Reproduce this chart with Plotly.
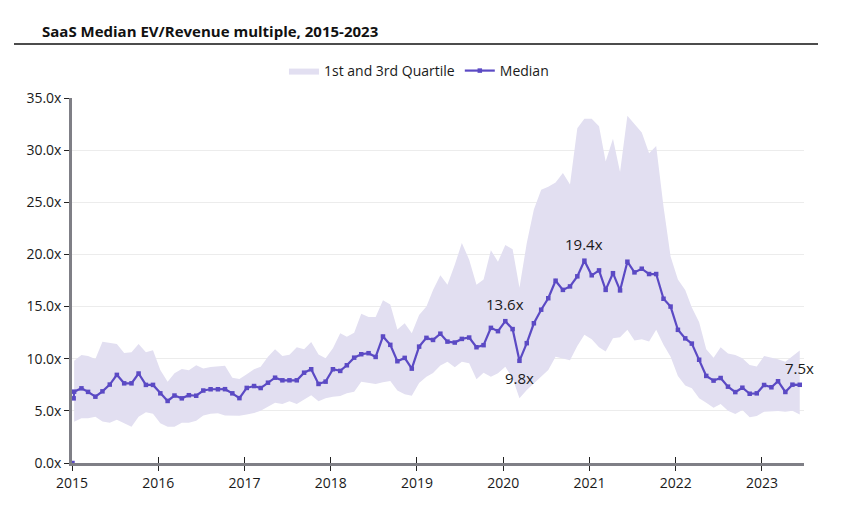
import pandas as pd
import plotly.graph_objects as go

# ---- data ----
start_month = "2015-01-01"
n_months = 102
dates = list(pd.date_range(start_month, periods=n_months, freq="MS") + pd.Timedelta(days=9))

median = [6.84, 7.16, 6.82, 6.36, 6.87, 7.52, 8.45, 7.64, 7.64, 8.58, 7.49, 7.49,
          6.68, 5.95, 6.47, 6.20, 6.50, 6.45, 6.95, 7.07, 7.07, 7.08, 6.68, 6.22,
          7.20, 7.38, 7.19, 7.70, 8.18, 7.93, 7.93, 7.93, 8.66, 8.99, 7.58, 7.80,
          8.99, 8.83, 9.37, 10.10, 10.43, 10.53, 10.17, 12.13, 11.33, 9.76, 10.08, 9.05,
          11.16, 12.00, 11.80, 12.40, 11.64, 11.55, 11.90, 12.03, 11.10, 11.30, 12.96, 12.64,
          13.60, 12.84, 9.80, 11.49, 13.40, 14.70, 15.80, 17.48, 16.60, 16.93, 17.90, 19.40,
          18.00, 18.47, 16.60, 18.20, 16.55, 19.30, 18.28, 18.63, 18.12, 18.12, 15.75, 15.00,
          12.77, 11.95, 11.45, 9.90, 8.35, 7.90, 8.15, 7.32, 6.80, 7.22, 6.64, 6.68,
          7.48, 7.26, 7.84, 6.81, 7.51, 7.50]

q3 = [9.80, 10.35, 10.25, 9.97, 11.62, 11.55, 11.42, 10.55, 10.62, 11.42, 10.62, 10.80,
      8.92, 7.80, 8.60, 9.02, 8.90, 9.38, 9.05, 9.20, 9.25, 9.32, 8.17, 8.06,
      8.50, 9.00, 9.24, 10.20, 10.90, 10.27, 10.37, 11.10, 10.90, 11.60, 10.40, 10.05,
      11.00, 12.45, 12.10, 12.50, 14.30, 14.00, 14.00, 15.60, 15.20, 12.80, 13.40, 12.45,
      14.20, 15.00, 16.60, 18.00, 17.10, 19.00, 21.10, 19.50, 17.10, 17.60, 20.40, 19.30,
      20.90, 20.50, 16.80, 21.10, 24.30, 26.20, 26.50, 26.90, 27.80, 26.70, 32.10, 33.00,
      33.00, 32.30, 28.90, 31.10, 27.90, 33.30, 32.50, 31.70, 29.70, 30.40, 24.60, 19.80,
      17.60, 16.60, 14.90, 13.50, 10.90, 10.10, 11.10, 10.50, 10.35, 10.05, 9.40, 9.25,
      10.25, 10.10, 9.95, 9.72, 10.20, 10.78]

q1 = [3.95, 4.28, 4.28, 4.43, 3.98, 3.85, 4.15, 3.80, 3.47, 4.43, 4.87, 4.72,
      3.80, 3.47, 3.47, 3.85, 3.86, 4.05, 4.55, 4.72, 4.78, 4.55, 4.56, 4.52,
      4.66, 4.79, 5.00, 5.40, 5.78, 5.65, 5.91, 5.65, 6.04, 6.49, 5.92, 6.20,
      6.36, 6.42, 6.68, 6.84, 7.80, 7.70, 7.58, 7.74, 7.87, 6.95, 6.60, 6.45,
      7.67, 8.28, 8.63, 9.35, 9.72, 9.18, 9.72, 9.57, 8.03, 8.66, 8.28, 8.60,
      9.24, 8.12, 6.20, 7.00, 7.64, 8.28, 8.92, 10.20, 10.05, 9.85, 11.23, 12.29,
      11.87, 11.10, 10.68, 11.97, 12.07, 12.77, 11.74, 11.87, 11.64, 12.77, 11.33, 10.20,
      8.35, 7.42, 7.16, 6.20, 5.78, 5.30, 5.65, 5.00, 4.69, 5.08, 4.38, 4.50,
      4.91, 4.98, 4.98, 4.91, 5.00, 4.66]

# leading points of the median series (a stray zero point, a gap, then an extra January value)
lead_dates = ["2015-01-03", "2015-01-06", "2015-01-08"]
lead_values = [0.0, None, 6.20]

year_ticks = [f"{y}-01-01" for y in range(2015, 2024)]
year_labels = [str(y) for y in range(2015, 2024)]
y_ticks = [0, 5, 10, 15, 20, 25, 30, 35]
y_labels = [f"{v:.1f}x" for v in y_ticks]

labels = [(71, "19.4x", 17), (60, "13.6x", 17), (62, "9.8x", -17), (101, "7.5x", 17)]

# ---- styling ----
band_color = "rgb(226,223,241)"
line_color = "rgb(91,74,196)"
font_family = "Open Sans, Noto Sans, sans-serif"

fig = go.Figure()
fig.add_trace(go.Scatter(x=dates, y=q1, mode="lines", line=dict(width=0, color=band_color),
                         showlegend=False, hoverinfo="skip"))
fig.add_trace(go.Scatter(x=dates, y=q3, mode="lines", line=dict(width=0, color=band_color),
                         fill="tonexty", fillcolor=band_color, name="1st and 3rd Quartile"))
med_x = [pd.Timestamp(d) for d in lead_dates] + dates
med_y = lead_values + median
fig.add_trace(go.Scatter(x=med_x, y=med_y, mode="lines+markers", name="Median",
                         line=dict(color=line_color, width=2.2),
                         marker=dict(symbol="square", size=4.5, color=line_color),
                         cliponaxis=False, connectgaps=False))
# inner ticks for the x axis (ticks cross the axis line)
fig.add_trace(go.Scatter(x=[dates[0]], y=[None], xaxis="x2", showlegend=False, hoverinfo="skip"))

for idx, txt, shift in labels:
    fig.add_annotation(x=dates[idx], y=median[idx], text=txt, showarrow=False, yshift=shift,
                       font=dict(size=15, color="#1a1a1a", family=font_family))

x_range = ["2015-01-01", "2023-06-28"]
fig.update_layout(
    width=848, height=510,
    margin=dict(l=72, r=44, t=98, b=47),
    paper_bgcolor="white", plot_bgcolor="white",
    font=dict(family=font_family, size=14, color="#1a1a1a"),
    title=dict(text="<b>SaaS Median EV/Revenue multiple, 2015-2023</b>", xref="container", yref="container",
               x=42 / 848, xanchor="left", y=1 - 32 / 510, yanchor="middle",
               font=dict(size=15, color="#111", family=font_family)),
    legend=dict(orientation="h", x=0.474, xanchor="center", y=1.074, yanchor="middle",
                font=dict(size=14), itemwidth=30, traceorder="normal"),
    xaxis=dict(range=x_range, tickvals=year_ticks, ticktext=year_labels, showgrid=False,
               showline=True, linecolor="#7f7f86", linewidth=2.5, ticks="outside", ticklen=5,
               tickcolor="#222", tickwidth=1, zeroline=False, tickfont=dict(size=14)),
    xaxis2=dict(range=x_range, tickvals=year_ticks, showticklabels=False, overlaying="x",
                anchor="y", side="bottom", ticks="inside", ticklen=6, tickcolor="#222", tickwidth=1,
                showgrid=False, showline=False, zeroline=False),
    yaxis=dict(range=[0, 35], tickvals=y_ticks, ticktext=y_labels, showgrid=True, gridcolor="#ececec",
               gridwidth=1, showline=True, linecolor="#7f7f86", linewidth=2.5, ticks="outside",
               ticklen=5, tickcolor="#222", tickwidth=1, zeroline=False, tickfont=dict(size=14)),
    shapes=[dict(type="line", xref="paper", yref="paper", x0=(14 - 72) / 732, x1=(818 - 72) / 732,
                 y0=(463 - 44) / 365, y1=(463 - 44) / 365, line=dict(color="#111", width=1.5))],
)

fig.write_html("out.html", config={"displayModeBar": False},
               post_script="document.body.style.margin='0px';")
